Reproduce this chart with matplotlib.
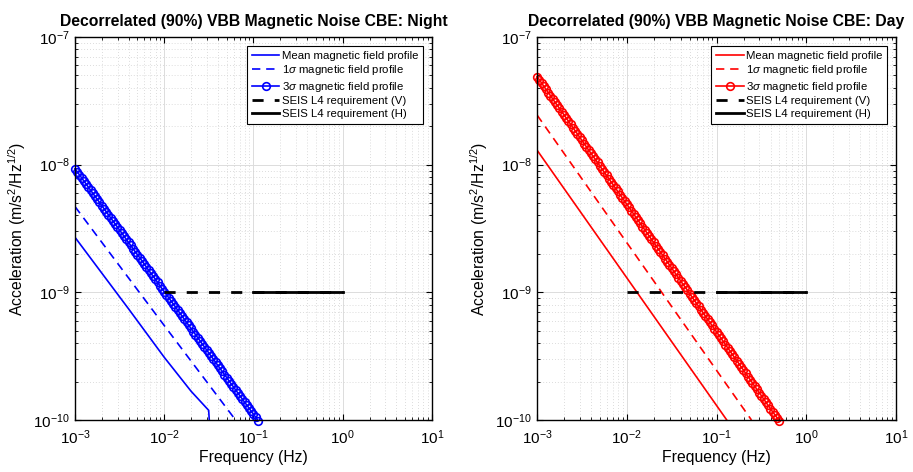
import numpy as np
import matplotlib
matplotlib.use('Agg')
import matplotlib.pyplot as plt
from matplotlib.ticker import LogLocator, NullFormatter

plt.rcParams['font.family'] = ['Liberation Sans', 'DejaVu Sans']
plt.rcParams['mathtext.fontset'] = 'custom'
plt.rcParams['mathtext.rm'] = 'Liberation Sans'
plt.rcParams['mathtext.it'] = 'Liberation Sans:italic'
plt.rcParams['mathtext.bf'] = 'Liberation Sans:bold'

# ---- datos ----
# Noche
night_mean_f = [1e-3, 4e-3, 1e-2, 2e-2, 3.15e-2, 3.4e-2]
night_mean_v = [2.7e-9, 7.4e-10, 3.1e-10, 1.68e-10, 1.19e-10, 5e-11]
night_1s_f = [1e-3, 1e-2, 6.3e-2]
night_1s_v = [4.7e-9, 5.5e-10, 1e-10]
night_3s_f = np.logspace(-3, -0.95, 83)
night_3s_v = [
    9.30e-9, 8.80e-9, 8.33e-9, 7.88e-9, 7.45e-9, 7.05e-9, 6.67e-9, 6.31e-9, 5.97e-9, 5.65e-9,
    5.35e-9, 5.06e-9, 4.78e-9, 4.53e-9, 4.28e-9, 4.05e-9, 3.83e-9, 3.63e-9, 3.43e-9, 3.25e-9,
    3.07e-9, 2.91e-9, 2.75e-9, 2.60e-9, 2.46e-9, 2.33e-9, 2.20e-9, 2.08e-9, 1.97e-9, 1.87e-9,
    1.77e-9, 1.67e-9, 1.58e-9, 1.49e-9, 1.41e-9, 1.34e-9, 1.27e-9, 1.20e-9, 1.13e-9, 1.07e-9,
    1.01e-9, 9.60e-10, 9.08e-10, 8.59e-10, 8.13e-10, 7.69e-10, 7.27e-10, 6.88e-10, 6.51e-10, 6.16e-10,
    5.83e-10, 5.51e-10, 5.22e-10, 4.93e-10, 4.67e-10, 4.42e-10, 4.18e-10, 3.95e-10, 3.74e-10, 3.54e-10,
    3.35e-10, 3.17e-10, 3.00e-10, 2.84e-10, 2.68e-10, 2.54e-10, 2.40e-10, 2.27e-10, 2.15e-10, 2.03e-10,
    1.92e-10, 1.82e-10, 1.72e-10, 1.63e-10, 1.54e-10, 1.46e-10, 1.38e-10, 1.31e-10, 1.24e-10, 1.17e-10,
    1.11e-10, 1.05e-10, 9.90e-11]

# Dia
day_mean_f = [1e-3, 1e-2, 1.3e-1]
day_mean_v = [1.3e-8, 1.3e-9, 1e-10]
day_1s_f = [1e-3, 1e-2, 2.45e-1]
day_1s_v = [2.45e-8, 2.45e-9, 1e-10]
day_3s_f = np.logspace(-3, -0.3, 109)
day_3s_v = [
    4.90e-8, 4.63e-8, 4.37e-8, 4.12e-8, 3.89e-8, 3.67e-8, 3.47e-8, 3.27e-8, 3.09e-8, 2.92e-8,
    2.76e-8, 2.60e-8, 2.46e-8, 2.32e-8, 2.19e-8, 2.07e-8, 1.95e-8, 1.84e-8, 1.74e-8, 1.64e-8,
    1.55e-8, 1.46e-8, 1.38e-8, 1.30e-8, 1.23e-8, 1.16e-8, 1.10e-8, 1.04e-8, 9.78e-9, 9.23e-9,
    8.71e-9, 8.23e-9, 7.77e-9, 7.33e-9, 6.92e-9, 6.53e-9, 6.17e-9, 5.82e-9, 5.50e-9, 5.19e-9,
    4.90e-9, 4.63e-9, 4.37e-9, 4.12e-9, 3.89e-9, 3.67e-9, 3.47e-9, 3.27e-9, 3.09e-9, 2.92e-9,
    2.76e-9, 2.60e-9, 2.46e-9, 2.32e-9, 2.19e-9, 2.07e-9, 1.95e-9, 1.84e-9, 1.74e-9, 1.64e-9,
    1.55e-9, 1.46e-9, 1.38e-9, 1.30e-9, 1.23e-9, 1.16e-9, 1.10e-9, 1.04e-9, 9.78e-10, 9.23e-10,
    8.71e-10, 8.23e-10, 7.77e-10, 7.33e-10, 6.92e-10, 6.53e-10, 6.17e-10, 5.82e-10, 5.50e-10, 5.19e-10,
    4.90e-10, 4.63e-10, 4.37e-10, 4.12e-10, 3.89e-10, 3.67e-10, 3.47e-10, 3.27e-10, 3.09e-10, 2.92e-10,
    2.76e-10, 2.60e-10, 2.46e-10, 2.32e-10, 2.19e-10, 2.07e-10, 1.95e-10, 1.84e-10, 1.74e-10, 1.64e-10,
    1.55e-10, 1.46e-10, 1.38e-10, 1.30e-10, 1.23e-10, 1.16e-10, 1.10e-10, 1.04e-10, 9.78e-11]

# Requisitos SEIS L4
req_v_f = [1e-2, 1e0]
req_v_v = [1e-9, 1e-9]
req_h_f = [1e-1, 1e0]
req_h_v = [1e-9, 1e-9]

# Ticks
x_ticks = [1e-3, 1e-2, 1e-1, 1e0, 1e1]
x_ticklabels = [r'$10^{-3}$', r'$10^{-2}$', r'$10^{-1}$', r'$10^{0}$', r'$10^{1}$']
y_ticks = [1e-10, 1e-9, 1e-8, 1e-7]
y_ticklabels = [r'$10^{-10}$', r'$10^{-9}$', r'$10^{-8}$', r'$10^{-7}$']

labels = ['Mean magnetic field profile', r'1$\sigma$ magnetic field profile',
          r'3$\sigma$ magnetic field profile', 'SEIS L4 requirement (V)',
          'SEIS L4 requirement (H)']

panels = [
    ('Night', 'b', night_mean_f, night_mean_v, night_1s_f, night_1s_v, night_3s_f, night_3s_v),
    ('Day', 'r', day_mean_f, day_mean_v, day_1s_f, day_1s_v, day_3s_f, day_3s_v),
]

fig = plt.figure(figsize=(9.13, 4.72), dpi=100)
positions = [[0.0821, 0.1102, 0.391, 0.8114], [0.5882, 0.1102, 0.3932, 0.8114]]

for pos, (name, col, mf, mv, sf, sv, tf, tv) in zip(positions, panels):
    ax = fig.add_axes(pos)
    ax.plot(mf, mv, color=col, lw=1.2, label=labels[0])
    ax.plot(sf, sv, color=col, lw=1.2, dashes=(5, 3.5), label=labels[1])
    ax.plot(tf, tv, color=col, lw=1.2, marker='o', markersize=5.5, markerfacecolor='none',
            markeredgewidth=1.2, label=labels[2], clip_on=False)
    ax.plot(req_v_f, req_v_v, color='k', lw=2, dashes=(4, 4), label=labels[3])
    ax.plot(req_h_f, req_h_v, color='k', lw=2, label=labels[4])

    # CONFIGURACION
    ax.set_xscale('log')
    ax.set_yscale('log')
    ax.set_xlim(1e-3, 1e1)
    ax.set_ylim(1e-10, 1e-7)
    ax.set_xticks(x_ticks, x_ticklabels)
    ax.set_yticks(y_ticks, y_ticklabels)
    ax.xaxis.set_minor_locator(LogLocator(base=10, subs=np.arange(2, 10), numticks=20))
    ax.yaxis.set_minor_locator(LogLocator(base=10, subs=np.arange(2, 10), numticks=20))
    ax.xaxis.set_minor_formatter(NullFormatter())
    ax.yaxis.set_minor_formatter(NullFormatter())
    ax.grid(True, which='major', color='#dcdcdc', lw=0.7, ls='-')
    ax.grid(True, which='minor', color='#d0d0d0', lw=0.6, ls=(0, (1, 2.5)))
    ax.set_axisbelow(True)
    ax.tick_params(which='both', direction='in', top=True, right=True, labelsize=11)
    ax.tick_params(which='minor', labelbottom=False, labelleft=False)
    ax.tick_params(which='major', length=4.5, width=0.8)
    ax.tick_params(which='minor', length=2.5, width=0.6)
    ax.tick_params(axis='x', pad=6)
    for s in ax.spines.values():
        s.set_linewidth(1.0)
    ax.set_title('Decorrelated (90%) VBB Magnetic Noise CBE: ' + name,
                 fontsize=11.3, fontweight='bold', pad=8)
    ax.set_xlabel('Frequency (Hz)', fontsize=11.3, labelpad=2)
    ax.set_ylabel(r'Acceleration (m/s$^2$/Hz$^{1/2}$)', fontsize=11.3, labelpad=4)
    leg = ax.legend(loc='upper right', fontsize=8.2, handlelength=2.4, handletextpad=0.2,
                    labelspacing=0.22, borderpad=0.45, borderaxespad=0.75, fancybox=False,
                    framealpha=1, edgecolor='k')
    leg.get_frame().set_linewidth(0.8)

fig.savefig('out.png', dpi=100)
